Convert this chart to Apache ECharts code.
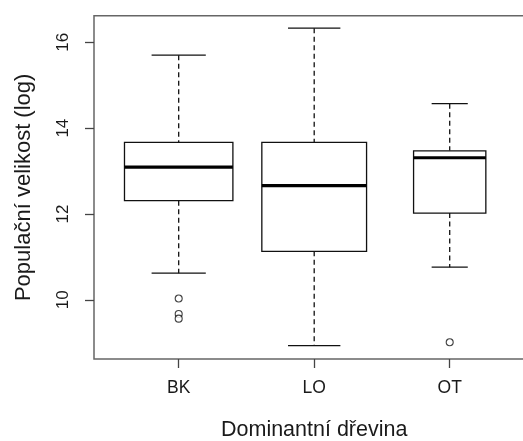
<!DOCTYPE html>
<html>
<head>
<meta charset="utf-8">
<script src="https://cdn.jsdelivr.net/npm/echarts@6/dist/echarts.min.js"></script>
<style>html,body{margin:0;padding:0;background:#fff;}#c{width:523px;height:441px;}</style>
</head>
<body>
<div id="c"></div>
<script>
// ---- data ----
var categories = ['BK', 'LO', 'OT'];
var whiskerLow = [10.62, 8.93, 10.76];
var q1 = [12.31, 11.13, 12.02];
var median = [13.09, 12.66, 13.31];
var q3 = [13.67, 13.67, 13.47];
var whiskerHigh = [15.70, 16.33, 14.57];
var groupSize = [45, 42, 20];
var outlierGroup = ['BK', 'BK', 'BK', 'OT'];
var outlierValue = [10.03, 9.67, 9.56, 9.01];
var yTicks = [10, 12, 14, 16];

// ---- build ----
var maxSqrt = Math.max.apply(null, groupSize.map(Math.sqrt));
var boxData = categories.map(function (c, i) {
  return [i + 1, whiskerLow[i], q1[i], median[i], q3[i], whiskerHigh[i], 0.8 * Math.sqrt(groupSize[i]) / maxSqrt];
});
var outData = outlierValue.map(function (v, i) {
  return [categories.indexOf(outlierGroup[i]) + 1, v];
});

var lineColor = '#111';
function renderBox(params, api) {
  var x = api.value(0), lo = api.value(1), a = api.value(2), m = api.value(3), b = api.value(4), hi = api.value(5), w = api.value(6);
  var pL = api.coord([x - w / 2, 0])[0], pR = api.coord([x + w / 2, 0])[0];
  var cx = api.coord([x, 0])[0];
  var capL = api.coord([x - w / 4, 0])[0], capR = api.coord([x + w / 4, 0])[0];
  var yLo = api.coord([x, lo])[1], yA = api.coord([x, a])[1], yM = api.coord([x, m])[1], yB = api.coord([x, b])[1], yHi = api.coord([x, hi])[1];
  var solid = { stroke: lineColor, lineWidth: 1.3, fill: null };
  var dashed = { stroke: lineColor, lineWidth: 1.3, lineDash: [5, 3.5], fill: null };
  return {
    type: 'group',
    children: [
      { type: 'line', shape: { x1: cx, y1: yHi, x2: cx, y2: yB }, style: dashed },
      { type: 'line', shape: { x1: cx, y1: yA, x2: cx, y2: yLo }, style: dashed },
      { type: 'line', shape: { x1: capL, y1: yHi, x2: capR, y2: yHi }, style: solid },
      { type: 'line', shape: { x1: capL, y1: yLo, x2: capR, y2: yLo }, style: solid },
      { type: 'rect', shape: { x: pL, y: yB, width: pR - pL, height: yA - yB }, style: { stroke: lineColor, lineWidth: 1.3, fill: '#fff' } },
      { type: 'line', shape: { x1: pL, y1: yM, x2: pR, y2: yM }, style: { stroke: '#000', lineWidth: 3.2 } }
    ]
  };
}

var txt = '#1a1a1a';
var font = 'Liberation Sans, Arial, sans-serif';
var chart = echarts.init(document.getElementById('c'), null, { renderer: 'canvas' });
chart.setOption({
  animation: false,
  backgroundColor: '#fff',
  grid: { left: 94, top: 15.7, width: 440.4, height: 343.3, show: true, borderColor: '#666', borderWidth: 1.5,
    backgroundColor: 'transparent', containLabel: false, outerBoundsMode: 'none' },
  xAxis: {
    type: 'value', min: 0.375, max: 3.625,
    name: 'Dominantní dřevina', nameLocation: 'middle', nameGap: 60,
    nameTextStyle: { fontSize: 21.5, color: txt, fontFamily: font },
    axisLine: { show: false },
    splitLine: { show: false },
    axisTick: { show: true, length: 9, lineStyle: { color: '#444', width: 1.3 }, customValues: [1, 2, 3] },
    axisLabel: { fontSize: 17.5, color: txt, fontFamily: font, margin: 20, customValues: [1, 2, 3],
      formatter: function (v) { return categories[Math.round(v) - 1] || ''; } }
  },
  yAxis: {
    type: 'value', min: 8.62, max: 16.62,
    name: 'Populační velikost (log)', nameLocation: 'middle', nameGap: 59, nameRotate: 90,
    nameTextStyle: { fontSize: 22, color: txt, fontFamily: font },
    axisLine: { show: false },
    splitLine: { show: false },
    axisTick: { show: true, length: 9, lineStyle: { color: '#444', width: 1.3 }, customValues: yTicks },
    axisLabel: { fontSize: 17, color: txt, fontFamily: font, margin: 22, rotate: 90, customValues: yTicks,
      formatter: function (v) { return String(Math.round(v)); } }
  },
  series: [
    { type: 'custom', renderItem: renderBox, data: boxData, encode: { x: 0, y: [1, 2, 3, 4, 5] }, z: 2 },
    { type: 'scatter', data: outData, symbol: 'circle', symbolSize: 7,
      itemStyle: { color: '#fff', borderColor: lineColor, borderWidth: 1.1 }, z: 3 }
  ]
});
</script>
</body>
</html>
